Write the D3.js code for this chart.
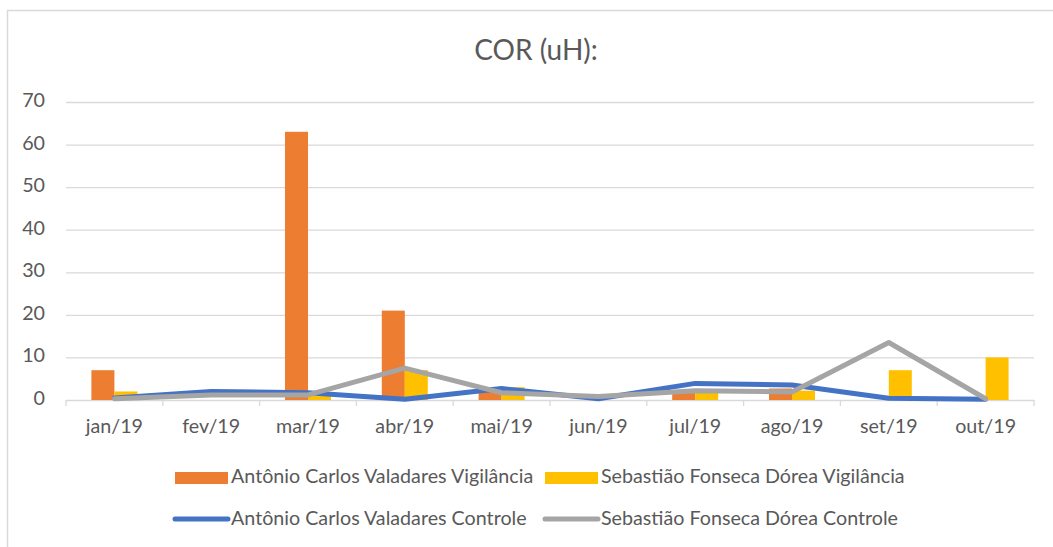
<!DOCTYPE html>
<html>
<head>
<meta charset="utf-8">
<script src="https://cdn.jsdelivr.net/npm/d3@7"></script>
<style>
  body { margin: 0; background: #fff; }
  text { font-family: Lato, "Open Sans", sans-serif; fill: #595959; }
</style>
</head>
<body>
<div id="chart"></div>
<script>
// data
const months = ["jan/19", "fev/19", "mar/19", "abr/19", "mai/19", "jun/19", "jul/19", "ago/19", "set/19", "out/19"]
const acVigilancia = [7, 0, 63, 21, 3, 0, 2, 2.7, 0, 0]
const sfVigilancia = [2, 0, 1, 7, 3, 0, 2, 2.2, 7, 10]
const acControle = [0.5, 2, 1.7, 0.2, 2.7, 0.3, 3.9, 3.5, 0.4, 0.2]
const sfControle = [0.3, 1.2, 1.2, 7.5, 1.7, 0.8, 2.2, 1.9, 13.5, 0.3]
const yTicks = [0, 10, 20, 30, 40, 50, 60, 70]

const barSeries = [
  {name: "Antônio Carlos Valadares Vigilância", values: acVigilancia, color: "#ED7D31"},
  {name: "Sebastião Fonseca Dórea Vigilância", values: sfVigilancia, color: "#FFC000"}
]
const lineSeries = [
  {name: "Antônio Carlos Valadares Controle", values: acControle, color: "#4472C4"},
  {name: "Sebastião Fonseca Dórea Controle", values: sfControle, color: "#A5A5A5"}
]

const W = 1053, H = 547
const plot = {left: 66, right: 1034, top: 102, bottom: 400}
const fontSize = "19.7px"
const lineWidth = 5

const svg = d3.select("#chart").append("svg")
  .attr("width", W)
  .attr("height", H)

// chart frame
svg.append("rect")
  .attr("x", 7.5).attr("y", 10.5)
  .attr("width", 1100).attr("height", 600)
  .attr("fill", "none")
  .attr("stroke", "#d9d9d9")
  .attr("stroke-width", 1.5)

svg.append("text")
  .attr("x", 536).attr("y", 53)
  .attr("text-anchor", "middle")
  .attr("dominant-baseline", "middle")
  .style("font-size", "28px")
  .text("COR (uH):")

const x = d3.scaleBand().domain(months).range([plot.left, plot.right])
const xSub = d3.scaleBand().domain([0, 1]).range([0, 46])
const subOffset = x.bandwidth() / 2 - 23

const y = d3.scaleLinear().domain([0, 70]).range([plot.bottom, plot.top])

// gridlines + y labels
svg.append("g")
  .selectAll("line")
  .data(yTicks)
  .join("line")
    .attr("x1", plot.left).attr("x2", plot.right)
    .attr("y1", d => y(d) + 0.5).attr("y2", d => y(d) + 0.5)
    .attr("stroke", "#d9d9d9")
    .attr("stroke-width", 1.3)

svg.append("g")
  .selectAll("text")
  .data(yTicks)
  .join("text")
    .attr("x", 45)
    .attr("y", d => y(d))
    .attr("text-anchor", "end")
    .attr("dominant-baseline", "middle")
    .style("font-size", fontSize)
    .text(d => d)

// x axis
const xAxis = svg.append("g")
  .attr("transform", `translate(0,${plot.bottom + 0.5})`)
  .call(d3.axisBottom(x).tickSize(0).tickPadding(19))
xAxis.select(".domain").remove()
xAxis.selectAll("text")
  .style("font-size", fontSize)
  .style("font-family", "Lato, 'Open Sans', sans-serif")
  .attr("fill", "#595959")

const tickPos = months.map(m => x(m)).concat([plot.right])
svg.append("g")
  .selectAll("line")
  .data(tickPos)
  .join("line")
    .attr("x1", d => d).attr("x2", d => d)
    .attr("y1", plot.bottom).attr("y2", plot.bottom + 6)
    .attr("stroke", "#d9d9d9")
    .attr("stroke-width", 1.3)

// bars
barSeries.forEach((s, si) => {
  svg.append("g")
    .selectAll("rect")
    .data(s.values)
    .join("rect")
      .attr("x", (d, i) => x(months[i]) + subOffset + xSub(si))
      .attr("width", xSub.bandwidth())
      .attr("y", d => y(d))
      .attr("height", d => y(0) - y(d))
      .attr("fill", s.color)
})

// lines
const line = d3.line()
  .x((d, i) => x(months[i]) + x.bandwidth() / 2)
  .y(d => y(d))

lineSeries.forEach(s => {
  svg.append("path")
    .datum(s.values)
    .attr("d", line)
    .attr("fill", "none")
    .attr("stroke", s.color)
    .attr("stroke-width", lineWidth)
    .attr("stroke-linejoin", "round")
    .attr("stroke-linecap", "round")
})

// legend
const legendX = [175, 545]
barSeries.forEach((s, i) => {
  svg.append("rect")
    .attr("x", legendX[i]).attr("y", 472)
    .attr("width", 53).attr("height", 12)
    .attr("fill", s.color)
  svg.append("text")
    .attr("x", legendX[i] + 56).attr("y", 478)
    .attr("dominant-baseline", "middle")
    .style("font-size", fontSize)
    .text(s.name)
})
lineSeries.forEach((s, i) => {
  svg.append("line")
    .attr("x1", legendX[i]).attr("x2", legendX[i] + 53)
    .attr("y1", 519).attr("y2", 519)
    .attr("stroke", s.color)
    .attr("stroke-width", lineWidth)
    .attr("stroke-linecap", "round")
  svg.append("text")
    .attr("x", legendX[i] + 56).attr("y", 520)
    .attr("dominant-baseline", "middle")
    .style("font-size", fontSize)
    .text(s.name)
})
</script>
</body>
</html>
